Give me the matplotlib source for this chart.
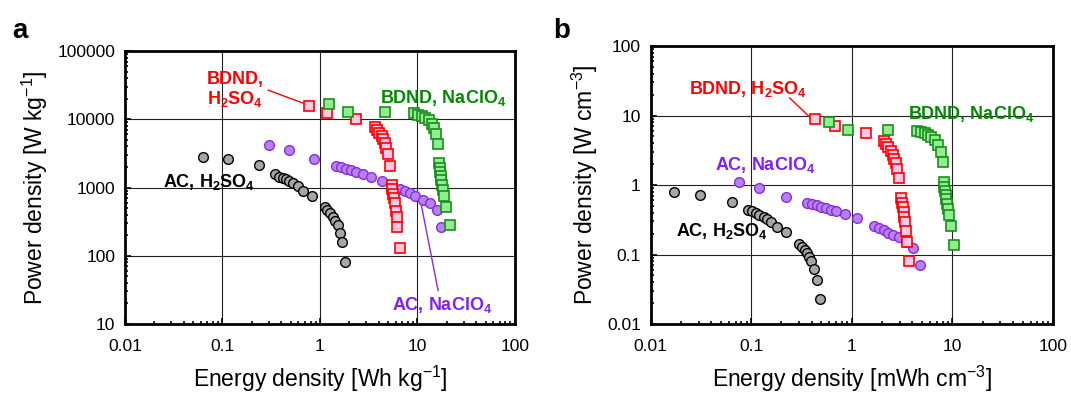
import numpy as np
import matplotlib
matplotlib.use("Agg")
from matplotlib import pyplot as plt
from matplotlib import ticker

plt.rcParams['font.family'] = ['Liberation Sans', 'DejaVu Sans']
plt.rcParams['mathtext.fontset'] = 'custom'
plt.rcParams['mathtext.rm'] = 'Liberation Sans'
plt.rcParams['mathtext.bf'] = 'Liberation Sans:bold'
plt.rcParams['mathtext.it'] = 'Liberation Sans:italic'

# ---- panel a : gravimetric ----
a_ac_h2so4_e = [0.063, 0.113, 0.237, 0.346, 0.38, 0.415, 0.449, 0.485, 0.533, 0.59, 0.675,
                0.835, 1.12, 1.19, 1.27, 1.35, 1.44, 1.52, 1.59, 1.68, 1.79]
a_ac_h2so4_p = [2840, 2600, 2150, 1570, 1450, 1400, 1355, 1250, 1157, 1058, 894,
                755, 521, 471, 421, 372, 325, 281, 219, 157, 80]
a_ac_naclo4_e = [0.30, 0.478, 0.861, 1.45, 1.63, 1.83, 2.06, 2.37, 2.78, 3.33, 4.28,
                 5.42, 6.59, 7.42, 8.35, 9.47, 11.4, 13.4, 15.7, 17.6]
a_ac_naclo4_p = [4260, 3560, 2600, 2075, 1985, 1900, 1815, 1695, 1567, 1449, 1253,
                 1094, 967, 894, 826, 755, 660, 584, 471, 265]
a_bd_h2so4_e = [0.771, 1.19, 2.37, 3.66, 3.87, 4.05, 4.28, 4.45, 4.63, 4.78, 4.93, 5.17,
                5.42, 5.51, 5.59, 5.68, 5.82, 5.96, 6.10, 6.24, 6.59]
a_bd_h2so4_p = [15700, 12250, 10000, 7640, 6980, 6380, 5700, 5100, 4450, 3765, 3075, 2100,
                1106, 946, 817, 698, 597, 456, 372, 260, 132]
a_bd_naclo4_e = [1.25, 1.94, 4.70, 9.17, 10.2, 11.1, 12.0, 13.0, 14.0, 14.7, 15.4, 16.3,
                 16.7, 16.9, 17.2, 17.3, 17.6, 17.9, 18.2, 18.6, 19.5, 21.4]
a_bd_naclo4_p = [16600, 12800, 12800, 12250, 11700, 11200, 10570, 9770, 8640, 7470, 6170, 4300,
                 2270, 1960, 1715, 1483, 1280, 1094, 925, 755, 510, 281]

# ---- panel b : volumetric ----
b_ac_h2so4_e = [0.0171, 0.0307, 0.0638, 0.0927, 0.102, 0.112, 0.121, 0.133, 0.144, 0.159, 0.181,
                0.223, 0.302, 0.321, 0.341, 0.360, 0.380, 0.397, 0.422, 0.456, 0.484]
b_ac_h2so4_p = [0.786, 0.719, 0.578, 0.435, 0.416, 0.398, 0.373, 0.341, 0.32, 0.290, 0.246,
                0.211, 0.144, 0.129, 0.117, 0.106, 0.0936, 0.082, 0.061, 0.043, 0.0228]
b_ac_naclo4_e = [0.0766, 0.121, 0.223, 0.360, 0.404, 0.449, 0.5, 0.556, 0.623, 0.705, 0.859,
                 1.12, 1.68, 1.85, 2.07, 2.30, 2.55, 2.93, 3.46, 4.10, 4.78]
b_ac_naclo4_p = [1.116, 0.896, 0.674, 0.56, 0.535, 0.512, 0.49, 0.464, 0.439, 0.416, 0.385,
                 0.334, 0.254, 0.240, 0.223, 0.206, 0.193, 0.177, 0.152, 0.124, 0.0704]
b_bd_h2so4_e = [0.432, 0.688, 1.37, 2.08, 2.19, 2.31, 2.44, 2.55, 2.65, 2.76, 2.84, 2.95,
                3.11, 3.16, 3.24, 3.29, 3.34, 3.41, 3.46, 3.55, 3.74]
b_bd_h2so4_p = [8.96, 7.04, 5.53, 4.25, 3.89, 3.53, 3.13, 2.74, 2.40, 2.06, 1.69, 1.245,
                0.645, 0.553, 0.475, 0.407, 0.349, 0.293, 0.216, 0.152, 0.0803]
b_bd_naclo4_e = [0.6, 0.927, 2.30, 4.42, 4.88, 5.31, 5.73, 6.18, 6.68, 7.20, 7.66, 8.02,
                 8.20, 8.33, 8.46, 8.59, 8.72, 8.85, 8.99, 9.20, 9.62, 10.4]
b_bd_naclo4_p = [8.03, 6.11, 6.11, 5.97, 5.78, 5.59, 5.29, 4.90, 4.40, 3.81, 2.99, 2.11,
                 1.09, 0.946, 0.82, 0.72, 0.624, 0.541, 0.454, 0.365, 0.254, 0.139]

RED, GREEN, PURPLE = '#ff0000', '#1a8f1a', '#8a2be2'
TXT_GREEN, TXT_PURPLE = '#008a00', '#7f1fff'

fig = plt.figure(figsize=(10.71, 3.95), dpi=100)
ax1 = fig.add_axes([0.1167, 0.1797, 0.3641, 0.6911])
ax2 = fig.add_axes([0.6074, 0.1797, 0.3758, 0.7038])


def draw(ax, ac1, ac2, bd1, bd2):
    ax.plot(*ac1, 'o', ms=7, mfc='#a6a6a6', mec='black', mew=1.0, zorder=3)
    ax.plot(*ac2, 'o', ms=7, mfc='#b681f0', mec=PURPLE, mew=1.0, zorder=3)
    ax.plot(*bd1, 's', ms=6.5, mfc='#ffc8e6', mec=RED, mew=1.2, zorder=4)
    ax.plot(*bd2, 's', ms=6.5, mfc='#90ee90', mec=GREEN, mew=1.2, zorder=4)


def style(ax, ylim):
    ax.set_xscale('log')
    ax.set_yscale('log')
    ax.set_xlim(0.01, 100)
    ax.set_ylim(*ylim)
    ax.grid(True, which='major', color='#222222', lw=0.8)
    ax.set_axisbelow(True)
    fmt = ticker.FuncFormatter(lambda v, _: f'{v:g}')
    ax.xaxis.set_major_formatter(fmt)
    ax.yaxis.set_major_formatter(fmt)
    ax.xaxis.set_minor_formatter(ticker.NullFormatter())
    ax.yaxis.set_minor_formatter(ticker.NullFormatter())
    ax.tick_params(which='both', direction='in', labelsize=12.5, top=False, right=False, width=1.2)
    ax.tick_params(which='major', length=4, pad=7)
    ax.tick_params(axis='x', which='major', pad=11)
    ax.tick_params(which='minor', length=2.5)
    for s in ax.spines.values():
        s.set_linewidth(2)


draw(ax1, (a_ac_h2so4_e, a_ac_h2so4_p), (a_ac_naclo4_e, a_ac_naclo4_p),
     (a_bd_h2so4_e, a_bd_h2so4_p), (a_bd_naclo4_e, a_bd_naclo4_p))
style(ax1, (10, 100000))
ax1.set_xlabel('Energy density [Wh kg$^{-1}$]', fontsize=16.5, labelpad=7)
ax1.set_ylabel('Power density [W kg$^{-1}$]', fontsize=16.5, labelpad=5)

kw = dict(fontsize=13, fontweight='bold', va='center', ha='left')
ax1.text(0.0697, 38000, 'BDND,', color=RED, **kw)
ax1.text(0.0697, 20000, 'H$_\\mathbf{2}$SO$_\\mathbf{4}$', color=RED, **kw)
ax1.plot([0.294, 0.67], [26700, 17260], color=RED, lw=1)
ax1.text(4.11, 20800, 'BDND, NaClO$_\\mathbf{4}$', color=TXT_GREEN, **kw)
ax1.text(0.0247, 1195, 'AC, H$_\\mathbf{2}$SO$_\\mathbf{4}$', color='black', **kw)
ax1.text(5.46, 19.0, 'AC, NaClO$_\\mathbf{4}$', color=TXT_PURPLE, **kw)
ax1.plot([11.0, 16.3], [538, 30.8], color=PURPLE, lw=1)

draw(ax2, (b_ac_h2so4_e, b_ac_h2so4_p), (b_ac_naclo4_e, b_ac_naclo4_p),
     (b_bd_h2so4_e, b_bd_h2so4_p), (b_bd_naclo4_e, b_bd_naclo4_p))
style(ax2, (0.01, 100))
ax2.set_xlabel('Energy density [mWh cm$^{-3}$]', fontsize=16.5, labelpad=7)
ax2.set_ylabel('Power density [W cm$^{-3}$]', fontsize=16.5, labelpad=5)

ax2.text(0.024, 24.1, 'BDND, H$_\\mathbf{2}$SO$_\\mathbf{4}$', color=RED, **kw)
ax2.plot([0.241, 0.38], [17.9, 9.58], color=RED, lw=1)
ax2.text(3.65, 10.6, 'BDND, NaClO$_\\mathbf{4}$', color=TXT_GREEN, **kw)
ax2.text(0.0434, 1.91, 'AC, NaClO$_\\mathbf{4}$', color=TXT_PURPLE, **kw)
ax2.text(0.0178, 0.218, 'AC, H$_\\mathbf{2}$SO$_\\mathbf{4}$', color='black', **kw)

fig.text(0.011, 0.905, 'a', fontsize=20, fontweight='bold')
fig.text(0.517, 0.905, 'b', fontsize=20, fontweight='bold')

fig.savefig('out.png', dpi=100)
